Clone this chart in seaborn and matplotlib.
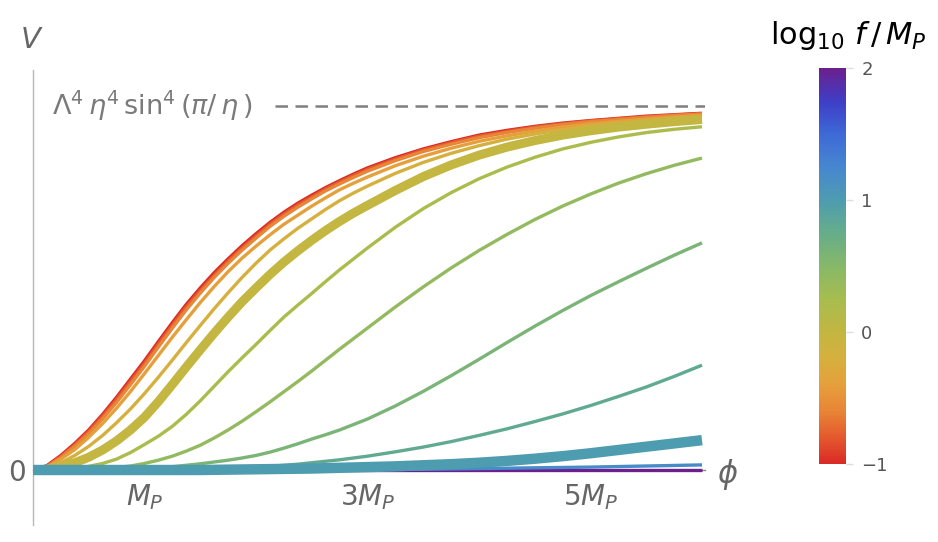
###########
import numpy as np
import pandas as pd
import seaborn as sns
import matplotlib
matplotlib.use("Agg")
import matplotlib.pyplot as plt
from matplotlib.colors import LinearSegmentedColormap, Normalize
from matplotlib.cm import ScalarMappable

##############################################################################
# Data (phi in units of M_P, V in units of the plateau)
##############################################################################
phi = [0.0, 0.125, 0.25, 0.375, 0.5, 0.625, 0.75, 0.875, 1.0, 1.125, 1.25, 1.375,
       1.5, 1.625, 1.75, 1.875, 2.0, 2.125, 2.25, 2.375, 2.5, 2.625, 2.75, 2.875,
       3.0, 3.25, 3.5, 3.75, 4.0, 4.25, 4.5, 4.75, 5.0, 5.25, 5.5, 5.75, 6.0]

v_m10 = [0, 0.012, 0.04, 0.073, 0.11, 0.153, 0.2, 0.25, 0.3, 0.353, 0.405, 0.455,
         0.5, 0.542, 0.58, 0.616, 0.649, 0.68, 0.708, 0.733, 0.755, 0.776, 0.795, 0.813,
         0.83, 0.858, 0.882, 0.902, 0.92, 0.933, 0.944, 0.953, 0.96, 0.966, 0.972, 0.976, 0.98]
v_m08 = [0, 0.01, 0.037, 0.069, 0.106, 0.148, 0.194, 0.243, 0.293, 0.346, 0.398, 0.448,
         0.493, 0.535, 0.574, 0.61, 0.643, 0.675, 0.703, 0.728, 0.75, 0.772, 0.791, 0.809,
         0.826, 0.854, 0.879, 0.899, 0.917, 0.93, 0.942, 0.951, 0.959, 0.965, 0.97, 0.975, 0.979]
v_m06 = [0, 0.009, 0.034, 0.065, 0.1, 0.141, 0.186, 0.235, 0.285, 0.338, 0.39, 0.44,
         0.486, 0.529, 0.568, 0.604, 0.637, 0.669, 0.697, 0.722, 0.745, 0.767, 0.786, 0.804,
         0.821, 0.85, 0.875, 0.895, 0.913, 0.927, 0.939, 0.949, 0.957, 0.963, 0.969, 0.974, 0.978]
v_m04 = [0, 0.007, 0.03, 0.056, 0.09, 0.128, 0.17, 0.216, 0.265, 0.315, 0.365, 0.413,
         0.46, 0.504, 0.545, 0.582, 0.615, 0.646, 0.675, 0.7, 0.725, 0.748, 0.77, 0.788,
         0.805, 0.836, 0.862, 0.884, 0.903, 0.918, 0.931, 0.942, 0.951, 0.958, 0.964, 0.97, 0.975]
v_m02 = [0, 0.004, 0.02, 0.04, 0.065, 0.095, 0.13, 0.168, 0.21, 0.255, 0.302, 0.35,
         0.397, 0.443, 0.487, 0.529, 0.568, 0.604, 0.635, 0.664, 0.69, 0.716, 0.74, 0.761,
         0.78, 0.815, 0.845, 0.87, 0.891, 0.909, 0.923, 0.935, 0.945, 0.953, 0.96, 0.966, 0.971]
v_p00 = [0, 0.002, 0.01, 0.02, 0.035, 0.055, 0.08, 0.11, 0.145, 0.188, 0.235, 0.283,
         0.33, 0.376, 0.42, 0.462, 0.50, 0.537, 0.571, 0.602, 0.631, 0.658, 0.683, 0.706,
         0.727, 0.768, 0.806, 0.838, 0.865, 0.887, 0.905, 0.92, 0.932, 0.942, 0.95, 0.957, 0.963]
v_p02 = [0, 0, 0.001, 0.004, 0.01, 0.018, 0.03, 0.048, 0.07, 0.093, 0.12, 0.153,
         0.19, 0.23, 0.27, 0.308, 0.345, 0.383, 0.42, 0.453, 0.485, 0.518, 0.55, 0.58,
         0.61, 0.667, 0.718, 0.762, 0.8, 0.832, 0.859, 0.882, 0.9, 0.915, 0.927, 0.936, 0.943]
v_p04 = [0, 0, 0, 0, 0.002, 0.004, 0.007, 0.011, 0.018, 0.027, 0.038, 0.052,
         0.068, 0.088, 0.11, 0.134, 0.16, 0.187, 0.215, 0.243, 0.272, 0.302, 0.332, 0.361,
         0.39, 0.448, 0.503, 0.555, 0.603, 0.647, 0.688, 0.725, 0.758, 0.788, 0.814, 0.837, 0.857]
v_p06 = [0, 0, 0, 0, 0, 0, 0.001, 0.002, 0.004, 0.006, 0.009, 0.013,
         0.017, 0.022, 0.027, 0.033, 0.04, 0.049, 0.06, 0.072, 0.085, 0.097, 0.11, 0.125,
         0.14, 0.176, 0.216, 0.259, 0.304, 0.35, 0.395, 0.438, 0.479, 0.517, 0.554, 0.59, 0.624]
v_p08 = [0, 0, 0, 0, 0, 0, 0, 0, 0.001, 0.001, 0.0015, 0.002,
         0.003, 0.004, 0.005, 0.0065, 0.008, 0.01, 0.013, 0.016, 0.02, 0.024, 0.028, 0.033,
         0.038, 0.05, 0.063, 0.078, 0.095, 0.113, 0.133, 0.154, 0.177, 0.202, 0.228, 0.257, 0.288]
v_p10 = [0, 0, 0, 0, 0, 0, 0, 0, 0, 0, 0, 0,
         0, 0.0005, 0.001, 0.0015, 0.002, 0.0025, 0.003, 0.0035, 0.004, 0.005, 0.006, 0.007,
         0.008, 0.01, 0.013, 0.016, 0.02, 0.025, 0.031, 0.038, 0.046, 0.055, 0.064, 0.073, 0.082]
v_p12 = [0, 0, 0, 0, 0, 0, 0, 0, 0, 0, 0, 0,
         0, 0, 0, 0, 0, 0, 0, 0, 0, 0, 0, 0,
         0.001, 0.0015, 0.002, 0.003, 0.004, 0.005, 0.006, 0.007, 0.008, 0.0095, 0.011, 0.0125, 0.014]
v_p20 = [0, 0, 0, 0, 0, 0, 0, 0, 0, 0, 0, 0,
         0, 0, 0, 0, 0, 0, 0, 0, 0, 0, 0, 0,
         0, 0, 0, 0, 0, 0, 0, 0, 0, 0, 0, 0, 0]

# log10 f/M_P of each curve, in drawing order
log_f = [2.0, -1.0, -0.8, -0.6, -0.4, -0.2, 0.0, 0.2, 0.4, 0.6, 0.8, 1.2, 1.0]
curves = [v_p20, v_m10, v_m08, v_m06, v_m04, v_m02, v_p00, v_p02, v_p04, v_p06, v_p08, v_p12, v_p10]

x_ticks = [1, 3, 5]
x_ticklabels = [r"$M_P$", r"$3M_P$", r"$5M_P$"]
cbar_ticks = [-1, 0, 1, 2]
plateau = 1.0

##############################################################################
# Colour map (rainbow, red -> purple)
##############################################################################
rainbow = LinearSegmentedColormap.from_list("rainbow_mma", [
    (0.000, "#DA2A26"), (0.067, "#E45A2E"), (0.133, "#E88536"), (0.200, "#E5A03B"),
    (0.267, "#D6B03E"), (0.333, "#C3B641"), (0.417, "#A6BD4F"), (0.500, "#87B868"),
    (0.583, "#66AD8A"), (0.667, "#4E9CB0"), (0.750, "#4787CF"), (0.833, "#3E6AD6"),
    (0.917, "#3E3EC6"), (1.000, "#6C208E")])
norm = Normalize(vmin=-1, vmax=2)

##############################################################################
# Plot
##############################################################################
sns.set_theme(style="white")
plt.rcParams["font.family"] = ["DejaVu Sans"]
plt.rcParams["mathtext.fontset"] = "dejavusans"

W, H = 938, 542
fig = plt.figure(figsize=(W / 100, H / 100), dpi=100)
ax = fig.add_axes([33 / W, 17 / H, 672 / W, 455 / H])

for lf, v in zip(log_f, curves):
    if lf == 0.0:
        lw = 6.5
    elif lf == 1.0:
        lw = 7.5
    else:
        lw = 2.4
    df = pd.DataFrame({"phi": phi, "V": v})
    sns.lineplot(data=df, x="phi", y="V", color=rainbow(norm(lf)), linewidth=lw,
                 solid_capstyle="butt", solid_joinstyle="round", ax=ax, zorder=3)

ax.set_xlim(0, 672 / 111.5)
ax.set_ylim(-55 / 364, 400 / 364)
ax.set_xlabel("")
ax.set_ylabel("")

for s in ["top", "right"]:
    ax.spines[s].set_visible(False)
ax.spines["left"].set_color("#b8b8b8")
ax.spines["left"].set_linewidth(1)
ax.spines["bottom"].set_position(("data", 0))
ax.spines["bottom"].set_color("#8c8c8c")
ax.spines["bottom"].set_linewidth(1)
ax.spines["bottom"].set_zorder(2)

ax.set_xticks(x_ticks)
ax.set_xticklabels(x_ticklabels)
ax.set_yticks([0, plateau])
ax.set_yticklabels(["0", ""])
ax.tick_params(axis="x", direction="in", length=6, width=1, color="#999999",
               labelsize=20, labelcolor="#666666", pad=9)
ax.tick_params(axis="y", direction="in", length=6, width=1, color="#b8b8b8",
               labelsize=20, labelcolor="#666666", pad=5)

# plateau level
ax.axhline(plateau, xmin=2.17 / (672 / 111.5), xmax=1, color="#7f7f7f",
           linestyle=(0, (5, 3)), linewidth=1.8, zorder=2)
ax.text(0.17, plateau, r"$\Lambda^4\,\eta^4\,\sin^4(\pi/\,\eta\,)$", fontsize=19.5,
        color="#7a7a7a", ha="left", va="center")

# axis names
fig.text(32 / W, 1 - 40 / H, r"$V$", fontsize=21, color="#666666", ha="center", va="center")
ax.text(6.23, -0.012, r"$\phi$", fontsize=22, color="#666666", ha="center", va="center",
        clip_on=False)

# colour bar
cax = fig.add_axes([819 / W, 78 / H, 27 / W, 396 / H])
cb = fig.colorbar(ScalarMappable(norm=norm, cmap=rainbow), cax=cax)
cb.outline.set_visible(False)
cb.set_ticks(cbar_ticks)
cax.tick_params(length=5, width=1, color="#dddddd", labelsize=13, labelcolor="#555555", pad=6)
fig.text(848 / W, 1 - 35 / H, r"$\log_{10}\, f\,/\,M_P$", fontsize=22, color="black",
         ha="center", va="center")

fig.savefig("out.png", dpi=100)
